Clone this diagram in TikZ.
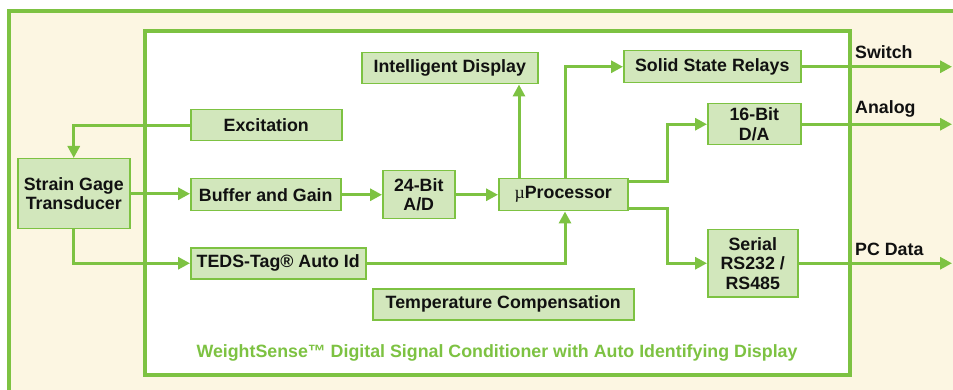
\documentclass[tikz,border=0pt]{standalone}
\usepackage{fontspec}
\setmainfont{Liberation Sans}
\newfontfamily\muserif{Liberation Serif}
\usetikzlibrary{arrows.meta,calc}
\definecolor{gline}{RGB}{125,194,66}
\definecolor{gfill}{RGB}{210,231,188}
\definecolor{cream}{RGB}{252,246,226}
\definecolor{ink}{RGB}{17,17,17}
\begin{document}
\begin{tikzpicture}[x=1pt,y=-1pt,
  blk/.style={draw=gline,line width=1.5pt,fill=gfill,inner sep=0pt,
    font=\fontsize{17.8}{19.5}\selectfont\bfseries,text=ink,align=center,anchor=north west},
  con/.style={draw=gline,line width=3pt,-{Triangle[length=12pt,width=12pt]}},
  lbl/.style={font=\fontsize{17.8}{19.5}\selectfont\bfseries,text=ink,anchor=west,inner sep=0pt},
  ttl/.style={font=\fontsize{17.8}{19.5}\selectfont\bfseries,text=gline,inner sep=0pt}]
\useasboundingbox (0,0) rectangle (953,390);
\fill[white] (0,0) rectangle (953,390);
\draw[gline,line width=4pt,fill=cream] (8.5,11.5) rectangle (1000,420);
\draw[gline,line width=4pt,fill=white] (145,31.5) rectangle (850,374.5);

\node[blk,minimum width=112pt,minimum height=70pt] (sg) at (17,158) {Strain Gage\\Transducer};
\node[blk,minimum width=151pt,minimum height=31pt] (exc) at (190,109) {Excitation};
\node[blk,minimum width=150pt,minimum height=32pt] (buf) at (190,178) {Buffer and Gain};
\node[blk,minimum width=175pt,minimum height=31pt] (teds) at (190,247) {TEDS-Tag® Auto Id};
\node[blk,minimum width=176pt,minimum height=31pt] (disp) at (361,52) {Intelligent Display};
\node[blk,minimum width=72pt,minimum height=48pt] (ad) at (382,170) {24-Bit\\A/D};
\node[blk,minimum width=129pt,minimum height=32pt] (up) at (498,178) {{\muserif\mdseries µ}Processor};
\node[blk,minimum width=261pt,minimum height=31pt] (temp) at (372,288) {Temperature Compensation};
\node[blk,minimum width=177pt,minimum height=32pt] (ssr) at (623,50) {Solid State Relays};
\node[blk,minimum width=93pt,minimum height=41pt] (da) at (707,103) {16-Bit\\D/A};
\node[blk,minimum width=90pt,minimum height=67pt] (ser) at (707,229) {Serial\\RS232 /\\RS485};

\coordinate (outx) at (952,0);

\draw[con] (exc.west) -| (sg.north);
\draw[con] (sg.east) -- (sg.east -| buf.west);
\draw[con] (sg.south) |- (teds.west);
\draw[con] (buf.east) -- (buf.east -| ad.west);
\draw[con] (ad.east) -- (ad.east -| up.west);
\coordinate (upA) at ($(up.north west)+(21,0)$);
\coordinate (upB) at ($(up.north west)+(67,0)$);
\coordinate (upC) at ($(up.south west)+(67,0)$);
\draw[con] (upA) -- (upA |- disp.south);
\draw[con] (upB) |- (ssr.west);
\draw[con] (teds.east) -| (upC);
\draw[con] ($(up.north east)+(0,4)$) -- ++(39,0) |- (da.west);
\draw[con] ($(up.south east)+(0,-3)$) -- ++(39,0) |- (ser.west);

\draw[con] (ssr.east) -- (ssr.east -| outx);
\draw[con] (da.east) -- (da.east -| outx);
\draw[con] (ser.east) -- (ser.east -| outx);

\node[lbl] (l1) at (855,52) {Switch};
\node[lbl] (l2) at (855,109) {Analog};
\node[lbl] (l3) at (855,249) {PC Data};

\node[ttl] (title) at (497,353) {WeightSense™ Digital Signal Conditioner with Auto Identifying Display};
\end{tikzpicture}
\end{document}
